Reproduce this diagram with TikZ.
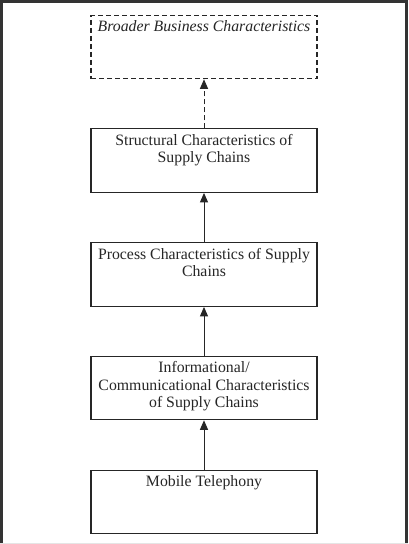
\documentclass[tikz,border=0pt]{standalone}
\usepackage{fontspec}
\setmainfont{Liberation Serif}
\usetikzlibrary{arrows.meta}
\begin{document}
\begin{tikzpicture}[x=1pt,y=-1pt,
  box/.style={draw=black!85,line width=1.1pt,minimum width=226pt,minimum height=63.5pt,inner sep=0pt,anchor=north},
  boxtext/.style={anchor=north,align=center,inner sep=0pt,text=black!85,font=\fontsize{15.8}{17.6}\selectfont},
  dashline/.style={dash pattern=on 5pt off 3pt},
  conn/.style={draw=black!85,line width=1pt,-{Triangle[width=8pt,length=9.5pt]}}]
\useasboundingbox (0,0) rectangle (408,544);
\fill[white] (0,0) rectangle (408,544);
\draw[black!80,line width=2.6pt] (1.3,544) -- (1.3,1.3) -- (406.7,1.3) -- (406.7,544);
\draw[black!10,line width=1pt] (0,543) -- (408,543);
\node[box,dashline] (b1) at (204,14.7) {};
\node[box] (b2) at (204,128.3) {};
\node[box] (b3) at (204,242.3) {};
\node[box] (b4) at (204,355.7) {};
\node[box] (b5) at (204,469.7) {};
\node[boxtext,font=\fontsize{15.8}{17.6}\selectfont\itshape] (t1) at ([yshift=-5.5pt]b1.north) {Broader Business Characteristics};
\node[boxtext] (t2) at ([yshift=-5.5pt]b2.north) {Structural Characteristics of\\Supply Chains};
\node[boxtext] (t3) at ([yshift=-5.5pt]b3.north) {Process Characteristics of Supply\\Chains};
\node[boxtext] (t4) at ([yshift=-5.5pt]b4.north) {Informational/\\Communicational Characteristics\\of Supply Chains};
\node[boxtext] (t5) at ([yshift=-5.5pt]b5.north) {Mobile Telephony};
\draw[conn,dashline] (b2.north) -- (b1.south);
\draw[conn] (b3.north) -- (b2.south);
\draw[conn] (b4.north) -- (b3.south);
\draw[conn] (b5.north) -- (b4.south);
\end{tikzpicture}
\end{document}
